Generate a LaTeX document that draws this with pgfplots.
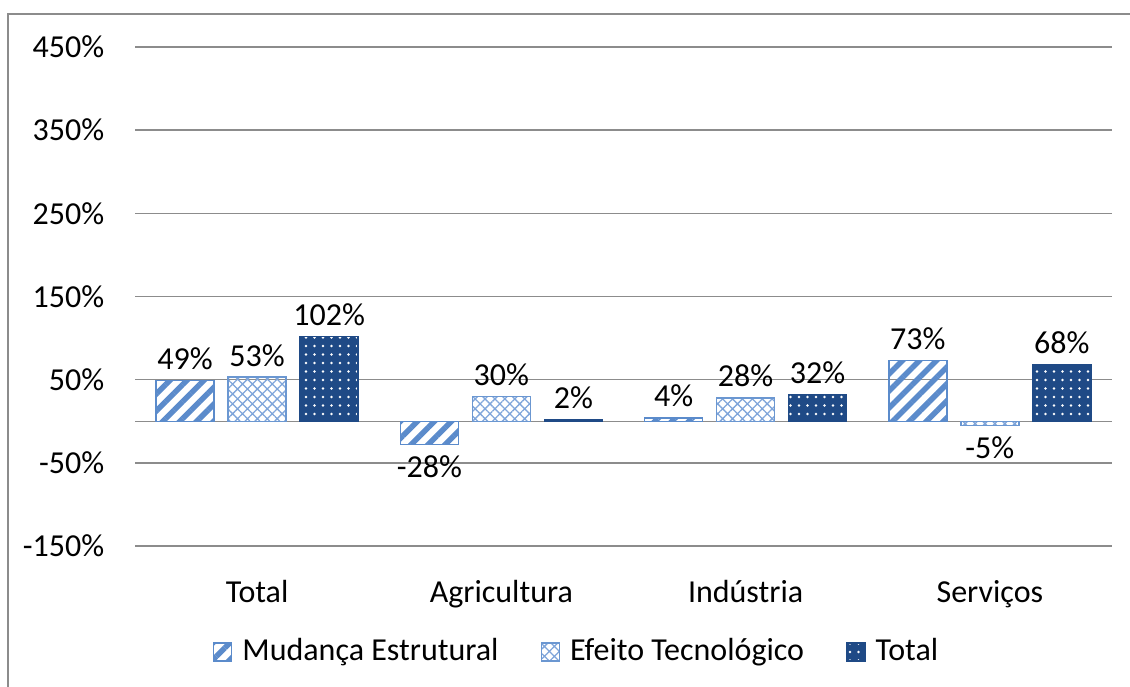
\documentclass[border=0pt]{standalone}
\usepackage{pgfplots}
\pgfplotsset{compat=1.18}
\usetikzlibrary{patterns.meta}
\usepackage{fontspec}
\setmainfont{Carlito}
\definecolor{stripe}{HTML}{5B8BCB}
\definecolor{hatch}{HTML}{7FA5DA}
\definecolor{hatchborder}{HTML}{6B97D1}
\definecolor{navy}{HTML}{1F4A86}
\definecolor{gridgray}{HTML}{8C8C8C}
\pgfplotsset{
  lblpos/.style={forget plot, draw=none, fill=none, bar shift=#1,
    point meta=explicit symbolic, nodes near coords,
    every node near coord/.append style={text=black, anchor=south}},
  lblneg/.style={forget plot, draw=none, fill=none, bar shift=#1,
    point meta=explicit symbolic, nodes near coords,
    every node near coord/.append style={text=black, anchor=north}},
}
\begin{document}
\fontsize{32}{38}\selectfont
\begin{tikzpicture}
\useasboundingbox (0pt,0pt) rectangle (1130pt,-686pt);
\draw[gridgray, line width=2pt] (8pt,-700pt) -- (8pt,-14pt) -- (1140pt,-14pt);
\begin{axis}[
  at={(135pt,-546pt)}, anchor=south west,
  width=977pt, height=499pt, scale only axis,
  xmin=-0.5, xmax=3.5, ymin=-150, ymax=450,
  ybar, bar width=58pt,
  axis line style={draw=none},
  tick style={draw=none},
  xtick={0,1,2,3},
  xticklabels={Total,Agricultura,Indústria,Serviços},
  xticklabel style={anchor=base, yshift=-52pt},
  ytick={-150,-50,50,150,250,350,450},
  yticklabels={-150\%,-50\%,50\%,150\%,250\%,350\%,450\%},
  yticklabel style={xshift=-20pt},
  ymajorgrids,
  grid style={gridgray, line width=1.5pt},
  extra y ticks={0}, extra y tick labels={},
  extra y tick style={grid style={gridgray, line width=1.5pt}},
  legend columns=3,
  legend style={at={(0.452,-0.212)}, anchor=center, draw=none, fill=none,
    /tikz/every odd column/.append style={column sep=8pt},
    /tikz/every even column/.append style={column sep=40pt}},
  legend image code/.code={\draw[#1, line width=1.5pt] (0pt,-9pt) rectangle (18pt,9pt);},
  clip=false,
]
\addplot[bar shift=-72pt, draw=stripe, line width=1.5pt,
  pattern={Lines[angle=45, distance=12pt, line width=5.5pt]}, pattern color=stripe]
  coordinates {(0,49) (1,-28) (2,4) (3,73)};
\addlegendentry{Mudança Estrutural}
\addplot[bar shift=0pt, draw=hatchborder, line width=1.5pt,
  pattern={Hatch[angle=45, distance=7pt, line width=1.3pt]}, pattern color=hatch]
  coordinates {(0,53) (1,30) (2,28) (3,-5)};
\addlegendentry{Efeito Tecnológico}
\addplot[bar shift=72pt, draw=navy, fill=navy, line width=1.5pt,
  postaction={pattern={Dots[distance=8.5pt, radius=1.4pt]}, pattern color=white}]
  coordinates {(0,102) (1,2) (2,32) (3,68)};
\addlegendentry{Total}
% data labels
\addplot[lblpos=-72pt] coordinates {(0,49) [49\%] (2,4) [4\%] (3,73) [73\%]};
\addplot[lblneg=-72pt] coordinates {(1,-28) [-28\%]};
\addplot[lblpos=0pt] coordinates {(0,53) [53\%] (1,30) [30\%] (2,28) [28\%]};
\addplot[lblneg=0pt] coordinates {(3,-5) [-5\%]};
\addplot[lblpos=72pt] coordinates {(0,102) [102\%] (1,2) [2\%] (2,32) [32\%] (3,68) [68\%]};
\end{axis}
\end{tikzpicture}
\end{document}
